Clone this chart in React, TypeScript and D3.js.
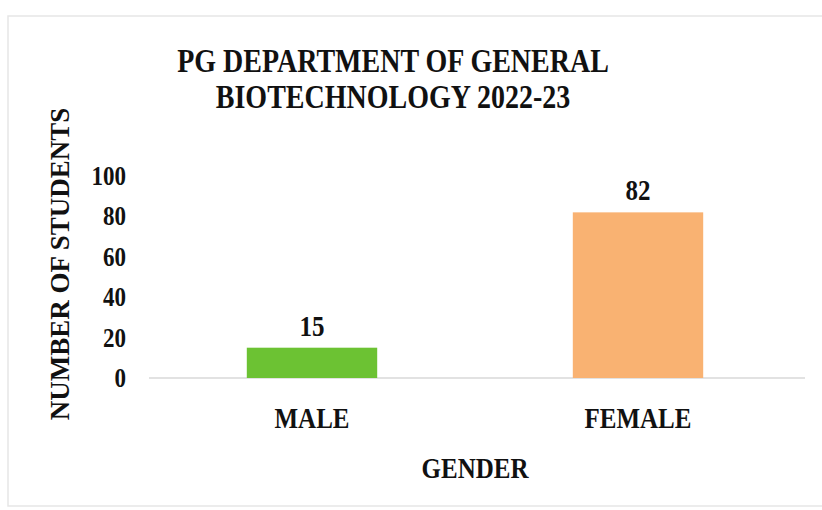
import React from "react";
import * as d3 from "d3";

const categories = ["MALE", "FEMALE"];
const values = [15, 82];
const barColors = ["#6cc233", "#f9b272"];
const yTicks = [0, 20, 40, 60, 80, 100];
const titleLines = ["PG DEPARTMENT OF GENERAL", "BIOTECHNOLOGY 2022-23"];
const xTitle = "GENDER";
const yTitle = "NUMBER OF STUDENTS";

const W = 822;
const H = 510;
const FONT = "'Liberation Serif', 'Times New Roman', serif";
const SY = 1.17;

function T(props: {
  x: number;
  y: number;
  size: number;
  anchor?: string;
  rotate?: number;
  children: React.ReactNode;
}) {
  const { x, y, size, anchor = "middle", rotate = 0, children } = props;
  return (
    <text
      transform={`translate(${x},${y}) rotate(${rotate}) scale(1,${rotate ? 1.05 : SY})`}
      textAnchor={anchor}
      fontSize={size}
      fill="#111"
    >
      {children}
    </text>
  );
}

export default function App() {
  const x = d3.scaleBand<string>().domain(categories).range([149, 801]).paddingInner(0.6).paddingOuter(0.3);
  const y = d3.scaleLinear().domain([0, 100]).range([378, 176]);
  const bw = x.bandwidth();

  return (
    <svg
      width={W}
      height={H}
      style={{ position: "absolute", left: 0, top: 0, background: "#fff" }}
      fontFamily={FONT}
      fontWeight="bold"
    >
      <rect x={8} y={16} width={W + 10} height={H - 16 - 4} fill="#fff" stroke="#e6e6e6" strokeWidth={1.5} />
      {titleLines.map((t, i) => (
        <T key={t} x={393} y={72 + i * 36} size={28}>
          {t}
        </T>
      ))}
      <line x1={149} x2={805} y1={y(0)} y2={y(0)} stroke="#d9d9d9" strokeWidth={1.5} />
      {yTicks.map((t) => (
        <T key={t} x={126} y={y(t) + 9} size={23} anchor="end">
          {t}
        </T>
      ))}
      {categories.map((c, i) => (
        <g key={c}>
          <rect x={x(c)} y={y(values[i])} width={bw} height={y(0) - y(values[i])} fill={barColors[i]} />
          <T x={(x(c) ?? 0) + bw / 2} y={y(values[i]) - 12} size={25}>
            {values[i]}
          </T>
          <T x={(x(c) ?? 0) + bw / 2} y={428} size={25}>
            {c}
          </T>
        </g>
      ))}
      <T x={475} y={478} size={25}>
        {xTitle}
      </T>
      <T x={69} y={264} size={27} rotate={-90}>
        {yTitle}
      </T>
    </svg>
  );
}
